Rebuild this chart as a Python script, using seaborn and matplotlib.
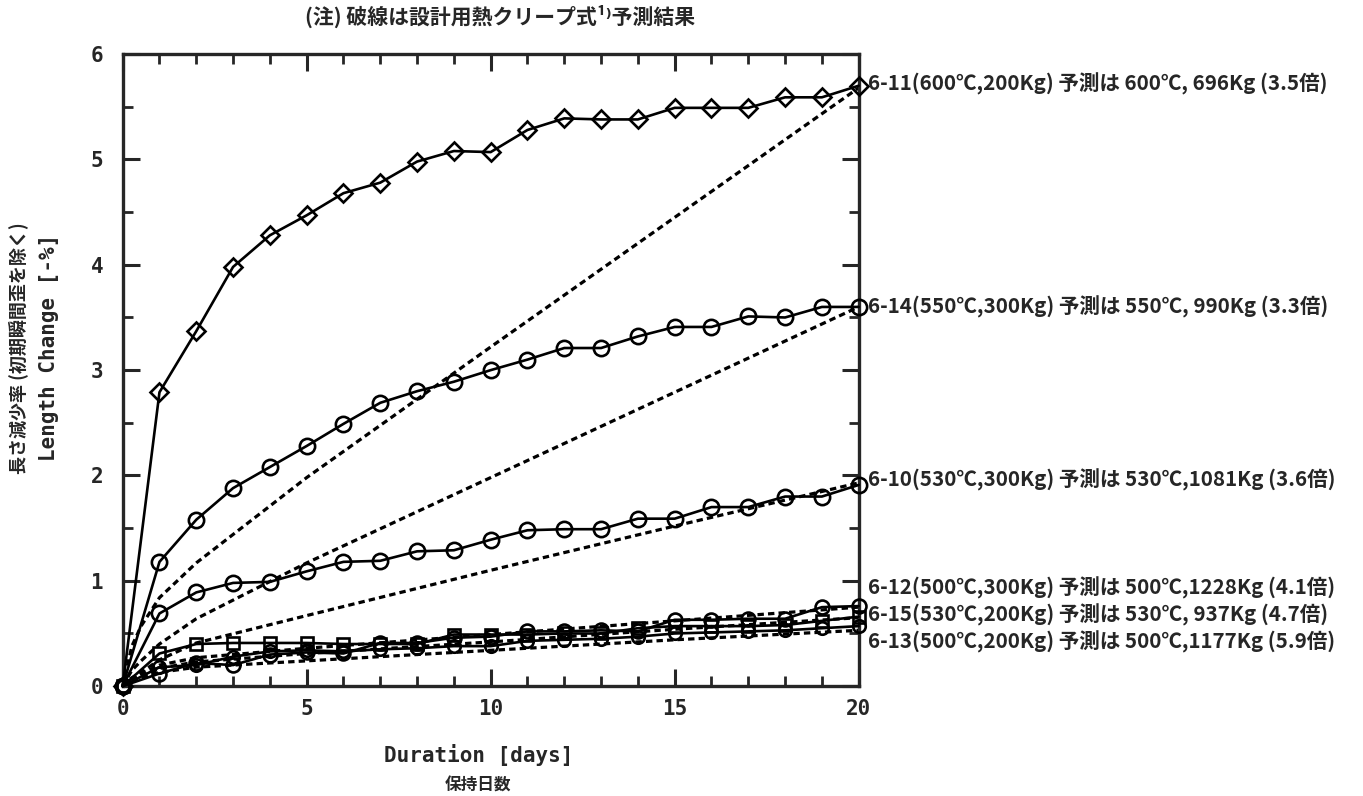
import matplotlib
matplotlib.use("Agg")
import matplotlib.pyplot as plt
from matplotlib.ticker import MultipleLocator
import seaborn as sns

# ---------------- data ----------------
days = list(range(21))

s6_11 = [0, 2.79, 3.37, 3.98, 4.28, 4.47, 4.68, 4.78, 4.98, 5.08, 5.07,
         5.28, 5.39, 5.38, 5.38, 5.49, 5.49, 5.49, 5.59, 5.59, 5.70]
s6_14 = [0, 1.18, 1.58, 1.88, 2.08, 2.28, 2.49, 2.69, 2.80, 2.89, 3.00,
         3.10, 3.21, 3.21, 3.32, 3.41, 3.41, 3.51, 3.50, 3.60, 3.60]
s6_10 = [0, 0.69, 0.89, 0.98, 0.99, 1.09, 1.18, 1.19, 1.28, 1.29, 1.39,
         1.48, 1.49, 1.49, 1.59, 1.59, 1.70, 1.70, 1.80, 1.80, 1.91]
s6_12 = [0, 0.12, 0.22, 0.20, 0.30, 0.32, 0.31, 0.41, 0.41, 0.46, 0.47,
         0.52, 0.52, 0.53, 0.52, 0.63, 0.63, 0.64, 0.64, 0.75, 0.76]
s6_15 = [0, 0.31, 0.40, 0.41, 0.41, 0.41, 0.40, 0.40, 0.40, 0.49, 0.49,
         0.49, 0.50, 0.50, 0.55, 0.57, 0.57, 0.57, 0.58, 0.62, 0.66]
s6_13 = [0, 0.18, 0.20, 0.28, 0.33, 0.34, 0.33, 0.35, 0.36, 0.38, 0.38,
         0.43, 0.44, 0.45, 0.47, 0.50, 0.51, 0.52, 0.53, 0.55, 0.57]

# prediction curves (dashed), read at a few durations
pred_t = [0, 0.25, 0.5, 1, 2, 5, 10, 15, 20]
p6_11 = [0, 0.38, 0.57, 0.84, 1.17, 1.98, 3.22, 4.45, 5.68]
p6_14 = [0, 0.15, 0.24, 0.40, 0.64, 1.17, 1.98, 2.79, 3.60]
p6_10 = [0, 0.08, 0.13, 0.25, 0.41, 0.67, 1.10, 1.52, 1.93]
p6_12 = [0, 0.07, 0.12, 0.20, 0.27, 0.36, 0.49, 0.62, 0.75]
p6_15 = [0, 0.06, 0.10, 0.17, 0.23, 0.31, 0.42, 0.54, 0.65]
p6_13 = [0, 0.05, 0.08, 0.13, 0.18, 0.24, 0.34, 0.44, 0.53]

labels = [
    "6-11(600℃,200Kg) 予測は 600℃, 696Kg (3.5倍)",
    "6-14(550℃,300Kg) 予測は 550℃, 990Kg (3.3倍)",
    "6-10(530℃,300Kg) 予測は 530℃,1081Kg (3.6倍)",
    "6-12(500℃,300Kg) 予測は 500℃,1228Kg (4.1倍)",
    "6-15(530℃,200Kg) 予測は 530℃, 937Kg (4.7倍)",
    "6-13(500℃,200Kg) 予測は 500℃,1177Kg (5.9倍)",
]
label_y = [5.72, 3.60, 1.96, 0.93, 0.68, 0.42]

xtick_vals = [0, 5, 10, 15, 20]
xtick_labels = ["0", "5", "10", "15", "20"]
ytick_vals = [0, 1, 2, 3, 4, 5, 6]
ytick_labels = ["0", "1", "2", "3", "4", "5", "6"]

title = "(注) 破線は設計用熱クリープ式¹⁾予測結果"
ylabel_jp = "長さ減少率 (初期瞬間歪を除く)"
ylabel_en = "Length Change [-%]"
xlabel_en = "Duration [days]"
xlabel_jp = "保持日数"

# ---------------- style ----------------
sns.set_style("ticks")
plt.rcParams["font.family"] = ["Noto Sans CJK JP", "DejaVu Sans"]
plt.rcParams["axes.linewidth"] = 2.4

fig = plt.figure(figsize=(13.63, 7.96), dpi=100)
ax = fig.add_axes([0.090, 0.138, 0.540, 0.794])

dash = (0, (2.0, 1.3))
for p in [p6_11, p6_14, p6_10, p6_12, p6_15, p6_13]:
    sns.lineplot(x=pred_t, y=p, ax=ax, color="black", linewidth=2.3,
                 linestyle=dash, zorder=2)

series = [(s6_11, "D", 9), (s6_14, "o", 11), (s6_10, "o", 11),
          (s6_12, "o", 10), (s6_15, "s", 8.5), (s6_13, "o", 9)]
for vals, mk, ms in series:
    sns.lineplot(x=days, y=vals, ax=ax, color="black", linewidth=1.9,
                 marker=mk, markersize=ms, markerfacecolor="none",
                 markeredgecolor="black", markeredgewidth=1.9, zorder=3)

for ln in ax.lines:
    ln.set_clip_on(False)

ax.set_xlim(0, 20)
ax.set_ylim(0, 6)
ax.set_xticks(xtick_vals)
ax.set_xticklabels(xtick_labels, fontfamily="DejaVu Sans Mono",
                   fontweight="bold", fontsize=15)
ax.set_yticks(ytick_vals)
ax.set_yticklabels(ytick_labels, fontfamily="DejaVu Sans Mono",
                   fontweight="bold", fontsize=15)
ax.xaxis.set_minor_locator(MultipleLocator(1))
ax.yaxis.set_minor_locator(MultipleLocator(0.5))
ax.tick_params(which="major", direction="in", length=12, width=2.2,
               top=True, right=True)
ax.tick_params(which="minor", direction="in", length=7, width=2.0,
               top=True, right=True)
ax.tick_params(axis="x", which="major", pad=9)
ax.tick_params(axis="y", which="major", pad=14)
ax.set_xlabel("")
ax.set_ylabel("")

for txt, yv in zip(labels, label_y):
    ax.text(20.25, yv, txt, ha="left", va="center", fontsize=14.8,
            fontweight="bold", clip_on=False)

fig.text(0.367, 0.980, title, ha="center", va="center", fontsize=15,
         fontweight="bold")
fig.text(0.013, 0.563, ylabel_jp, rotation=90, ha="center", va="center",
         fontsize=13, fontweight="bold")
fig.text(0.036, 0.563, ylabel_en, rotation=90, ha="center", va="center",
         fontsize=15, fontweight="bold", fontfamily="DejaVu Sans Mono")
fig.text(0.351, 0.051, xlabel_en, ha="center", va="center", fontsize=15,
         fontweight="bold", fontfamily="DejaVu Sans Mono")
fig.text(0.351, 0.013, xlabel_jp, ha="center", va="center", fontsize=12,
         fontweight="bold")

fig.savefig("out.png", dpi=100, facecolor="white")
